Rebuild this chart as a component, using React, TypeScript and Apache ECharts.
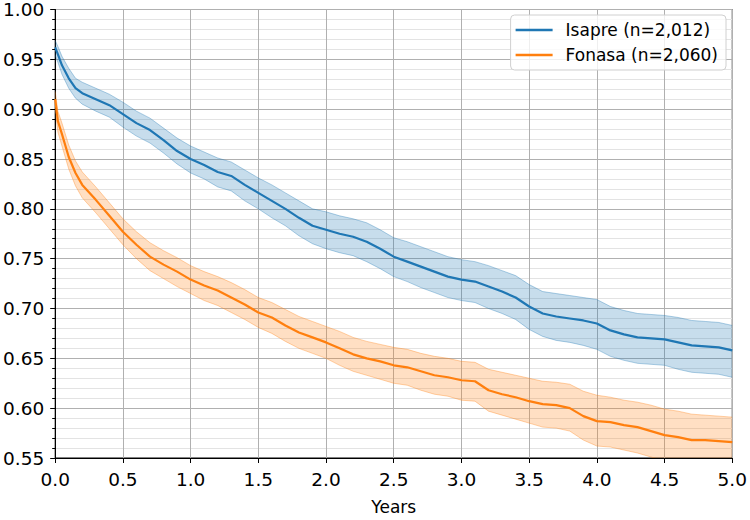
import React, { useEffect, useRef } from "react";
import * as echarts from "echarts";

const years = [0, 0.02, 0.05, 0.1, 0.15, 0.2, 0.3, 0.4, 0.5, 0.6, 0.7, 0.8, 0.9, 1.0, 1.1, 1.2, 1.3, 1.4, 1.5, 1.6, 1.7, 1.8, 1.9, 2.0, 2.1, 2.2, 2.3, 2.4, 2.5, 2.6, 2.7, 2.8, 2.9, 3.0, 3.1, 3.2, 3.3, 3.4, 3.5, 3.6, 3.7, 3.8, 3.9, 4.0, 4.1, 4.2, 4.3, 4.4, 4.5, 4.6, 4.7, 4.8, 4.9, 5.0];

const isapre = [0.962, 0.955, 0.944, 0.931, 0.921, 0.916, 0.910, 0.904, 0.895, 0.886, 0.879, 0.869, 0.858, 0.850, 0.844, 0.837, 0.833, 0.824, 0.816, 0.808, 0.800, 0.791, 0.783, 0.779, 0.775, 0.772, 0.767, 0.760, 0.752, 0.747, 0.742, 0.737, 0.732, 0.729, 0.727, 0.722, 0.717, 0.711, 0.702, 0.695, 0.692, 0.690, 0.688, 0.685, 0.678, 0.674, 0.671, 0.670, 0.669, 0.666, 0.663, 0.662, 0.661, 0.658];
const isapreUpper = [0.969, 0.963, 0.953, 0.941, 0.931, 0.927, 0.921, 0.915, 0.907, 0.898, 0.891, 0.881, 0.871, 0.863, 0.857, 0.851, 0.847, 0.839, 0.831, 0.824, 0.816, 0.808, 0.800, 0.797, 0.793, 0.790, 0.786, 0.779, 0.771, 0.767, 0.762, 0.757, 0.752, 0.749, 0.747, 0.743, 0.738, 0.733, 0.724, 0.717, 0.715, 0.713, 0.711, 0.709, 0.702, 0.698, 0.695, 0.694, 0.693, 0.691, 0.688, 0.687, 0.686, 0.683];
const isapreLower = [0.954, 0.947, 0.935, 0.921, 0.911, 0.905, 0.898, 0.892, 0.882, 0.873, 0.866, 0.856, 0.845, 0.836, 0.830, 0.822, 0.818, 0.808, 0.800, 0.791, 0.783, 0.773, 0.765, 0.760, 0.756, 0.753, 0.747, 0.740, 0.732, 0.727, 0.721, 0.716, 0.711, 0.708, 0.706, 0.700, 0.695, 0.689, 0.679, 0.672, 0.668, 0.666, 0.663, 0.659, 0.652, 0.648, 0.645, 0.644, 0.643, 0.639, 0.636, 0.635, 0.634, 0.631];

const fonasa = [0.910, 0.888, 0.875, 0.852, 0.836, 0.824, 0.809, 0.793, 0.777, 0.764, 0.752, 0.744, 0.737, 0.729, 0.723, 0.718, 0.711, 0.704, 0.696, 0.691, 0.683, 0.676, 0.671, 0.666, 0.660, 0.654, 0.650, 0.647, 0.643, 0.641, 0.637, 0.633, 0.631, 0.628, 0.627, 0.618, 0.614, 0.611, 0.607, 0.604, 0.603, 0.600, 0.592, 0.587, 0.586, 0.583, 0.581, 0.577, 0.573, 0.571, 0.568, 0.568, 0.567, 0.566];
const fonasaUpper = [0.918, 0.898, 0.886, 0.864, 0.848, 0.837, 0.822, 0.806, 0.790, 0.777, 0.766, 0.758, 0.751, 0.743, 0.737, 0.732, 0.726, 0.719, 0.711, 0.706, 0.699, 0.692, 0.687, 0.682, 0.677, 0.671, 0.667, 0.664, 0.661, 0.659, 0.655, 0.652, 0.650, 0.647, 0.646, 0.639, 0.636, 0.633, 0.630, 0.627, 0.626, 0.624, 0.617, 0.613, 0.611, 0.608, 0.606, 0.603, 0.599, 0.597, 0.594, 0.593, 0.592, 0.591];
const fonasaLower = [0.900, 0.877, 0.863, 0.840, 0.823, 0.811, 0.796, 0.780, 0.764, 0.750, 0.738, 0.730, 0.722, 0.715, 0.708, 0.703, 0.696, 0.689, 0.681, 0.675, 0.667, 0.660, 0.655, 0.650, 0.643, 0.637, 0.633, 0.629, 0.625, 0.623, 0.618, 0.614, 0.612, 0.608, 0.607, 0.597, 0.593, 0.589, 0.585, 0.581, 0.580, 0.577, 0.568, 0.562, 0.561, 0.558, 0.555, 0.551, 0.547, 0.545, 0.542, 0.541, 0.540, 0.539];

const seriesNames = ["Isapre (n=2,012)", "Fonasa (n=2,060)"];
const xTicks = { min: 0, max: 5, interval: 0.5 };
const yTicks = { min: 0.55, max: 1.0, interval: 0.05 };

const BLUE = "#1f77b4";
const ORANGE = "#ff7f0e";
const FONT = "DejaVu Sans";

function pairs(vals: number[]) {
  return years.map((x, i) => [x, vals[i]]);
}

function band(name: string, lo: number[], up: number[], fill: string, edge: string) {
  return {
    name: name + "_band",
    type: "custom",
    silent: true,
    z: 1,
    data: [[years[0], lo[0]]],
    encode: { x: 0, y: 1 },
    renderItem: (params: any, api: any) => {
      const upPts = years.map((x, i) => api.coord([x, up[i]]));
      const loPts = years.map((x, i) => api.coord([x, lo[i]]));
      const poly = upPts.concat(loPts.slice().reverse());
      const cs = params.coordSys;
      return {
        type: "group",
        clipPath: { type: "rect", shape: { x: cs.x, y: cs.y, width: cs.width, height: cs.height } },
        children: [
          { type: "polygon", shape: { points: poly }, style: { fill, stroke: "none" } },
          { type: "polyline", shape: { points: upPts }, style: { fill: "none", stroke: edge, lineWidth: 1 } },
          { type: "polyline", shape: { points: loPts }, style: { fill: "none", stroke: edge, lineWidth: 1 } },
        ],
      };
    },
  };
}

export default function App() {
  const ref = useRef<HTMLDivElement>(null);
  useEffect(() => {
    if (!ref.current) return;
    const chart = echarts.init(ref.current, null, { renderer: "svg" });
    chart.setOption({
      animation: false,
      textStyle: { fontFamily: FONT },
      grid: {
        left: 55,
        right: 15,
        top: 7,
        bottom: 57,
        show: true,
        borderColor: "#000",
        borderWidth: 1,
        backgroundColor: "transparent",
      },
      legend: {
        data: seriesNames.map((n, i) => ({ name: n, icon: "rect", itemStyle: { color: i === 0 ? BLUE : ORANGE } })),
        orient: "vertical",
        right: 24,
        top: 15,
        itemWidth: 37,
        itemHeight: 2.5,
        itemGap: 5,
        padding: [5, 8, 5, 5],
        backgroundColor: "rgba(255,255,255,0.8)",
        borderColor: "#d0d0d0",
        borderWidth: 1,
        borderRadius: 4,
        textStyle: { fontFamily: FONT, fontSize: 17, color: "#000", padding: [0, 0, 0, 8], lineHeight: 20 },
      },
      xAxis: {
        type: "value",
        min: xTicks.min,
        max: xTicks.max,
        interval: xTicks.interval,
        name: "Years",
        nameLocation: "middle",
        nameGap: 40,
        nameTextStyle: { fontFamily: FONT, fontSize: 17, color: "#000" },
        axisLine: { show: true, lineStyle: { color: "#000", width: 1 } },
        axisTick: { show: true, length: 5, inside: false, lineStyle: { color: "#000" } },
        axisLabel: {
          fontFamily: FONT,
          fontSize: 18.5,
          color: "#000",
          margin: 12,
          formatter: (v: number) => v.toFixed(1),
        },
        splitLine: { show: true, lineStyle: { color: "#b0b0b0", width: 1 } },
      },
      yAxis: {
        type: "value",
        min: yTicks.min,
        max: yTicks.max,
        interval: yTicks.interval,
        axisLine: { show: true, lineStyle: { color: "#000", width: 1 } },
        axisTick: { show: true, length: 5, inside: false, lineStyle: { color: "#000" } },
        minorTick: { show: true, splitNumber: 5, length: 3, lineStyle: { color: "#000" } },
        axisLabel: {
          fontFamily: FONT,
          fontSize: 18.5,
          color: "#000",
          margin: 11,
          formatter: (v: number) => v.toFixed(2),
        },
        splitLine: { show: true, lineStyle: { color: "#b0b0b0", width: 1 } },
        minorSplitLine: { show: true, lineStyle: { color: "#e3e3e3", width: 1 } },
      },
      series: [
        band("isapre", isapreLower, isapreUpper, "rgba(31,119,180,0.25)", "rgba(31,119,180,0.35)"),
        band("fonasa", fonasaLower, fonasaUpper, "rgba(255,127,14,0.25)", "rgba(255,127,14,0.35)"),
        {
          name: seriesNames[0],
          type: "line",
          data: pairs(isapre),
          symbol: "none",
          lineStyle: { color: BLUE, width: 2.2 },
          itemStyle: { color: BLUE },
          z: 3,
        },
        {
          name: seriesNames[1],
          type: "line",
          data: pairs(fonasa),
          symbol: "none",
          lineStyle: { color: ORANGE, width: 2.2 },
          itemStyle: { color: ORANGE },
          z: 3,
        },
      ],
    });
    return () => chart.dispose();
  }, []);
  return <div ref={ref} style={{ width: 750, height: 520, position: "absolute", left: 0, top: 0 }} />;
}
